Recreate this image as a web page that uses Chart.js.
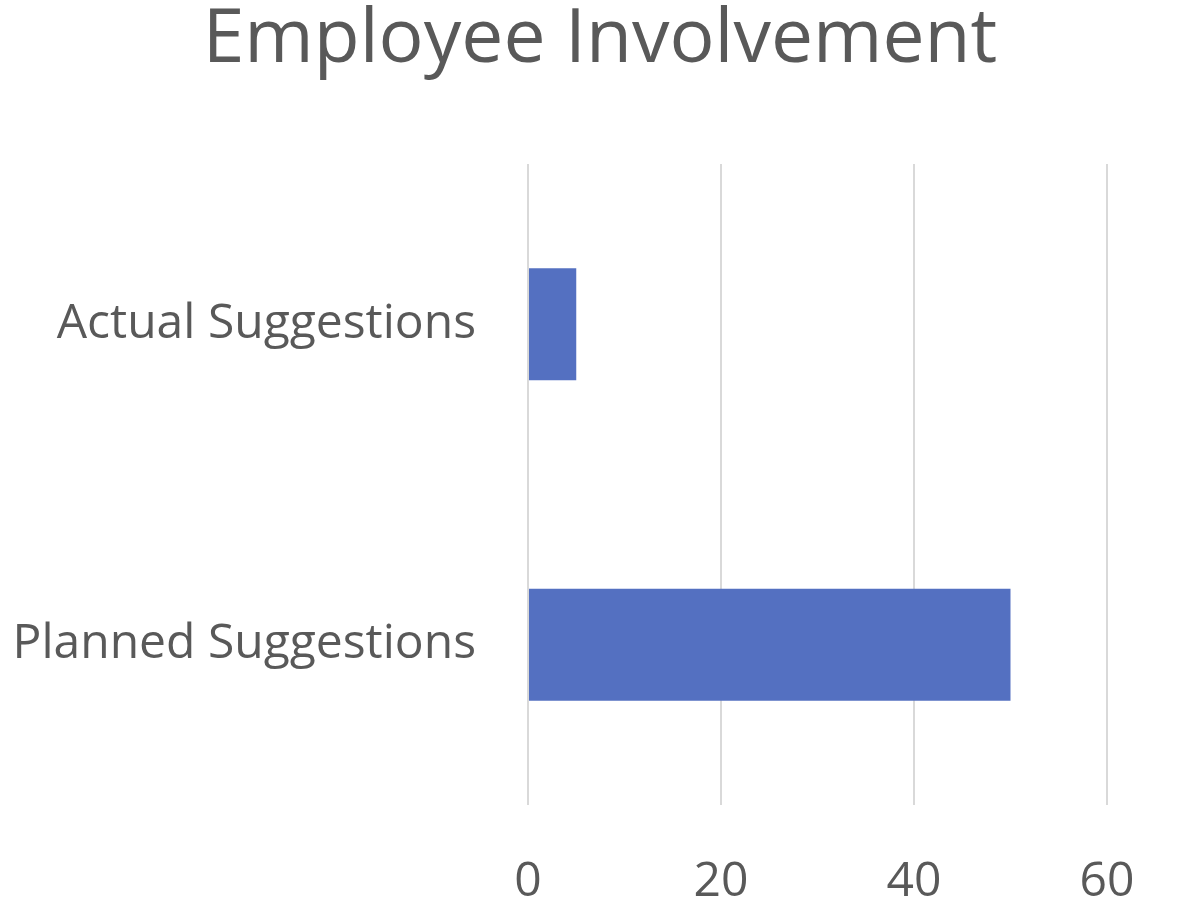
<!DOCTYPE html>
<html>
<head>
<meta charset="utf-8">
<script src="https://cdn.jsdelivr.net/npm/chart.js@4"></script>
<style>
html,body{margin:0;padding:0;background:#fff;}
#wrap{width:1200px;height:900px;position:relative;}
</style>
</head>
<body>
<div id="wrap"><canvas id="c" width="1200" height="900"></canvas></div>
<script>
const categories = ['Actual Suggestions', 'Planned Suggestions'];
const suggestionValues = [5, 50];
const xTickValues = [0, 20, 40, 60];

const FONT = "'Open Sans', 'Noto Sans', sans-serif";
const TEXT = '#595959';

new Chart(document.getElementById('c'), {
  type: 'bar',
  data: {
    labels: categories,
    datasets: [{
      data: suggestionValues,
      backgroundColor: '#5470C1',
      borderWidth: 0,
      categoryPercentage: 1,
      barPercentage: 0.35
    }]
  },
  options: {
    indexAxis: 'y',
    responsive: false,
    animation: false,
    layout: { padding: 0 },
    plugins: {
      legend: { display: false },
      tooltip: { enabled: false },
      title: {
        display: true,
        text: 'Employee Involvement',
        color: TEXT,
        font: { family: FONT, size: 75, weight: 'normal', lineHeight: 1.0 },
        padding: { top: 3, bottom: 86 }
      }
    },
    scales: {
      x: {
        min: xTickValues[0],
        max: xTickValues[xTickValues.length - 1],
        afterBuildTicks: (s) => { s.ticks = xTickValues.map(v => ({ value: v })); },
        grid: { color: '#D9D9D9', lineWidth: 2, drawTicks: false },
        border: { display: false },
        ticks: { color: TEXT, padding: 49, font: { family: FONT, size: 48 } },
        afterFit: (s) => { s.height = 95; }
      },
      y: {
        grid: { display: false, drawTicks: false },
        border: { display: false },
        ticks: { color: TEXT, padding: 52, font: { family: FONT, size: 48 } },
        afterFit: (s) => { s.width = 528; }
      },
      rightSpace: {
        type: 'category',
        axis: 'y',
        position: 'right',
        display: true,
        grid: { display: false, drawTicks: false },
        border: { display: false },
        ticks: { display: false },
        afterFit: (s) => { s.width = 93; }
      }
    }
  }
});
</script>
</body>
</html>
